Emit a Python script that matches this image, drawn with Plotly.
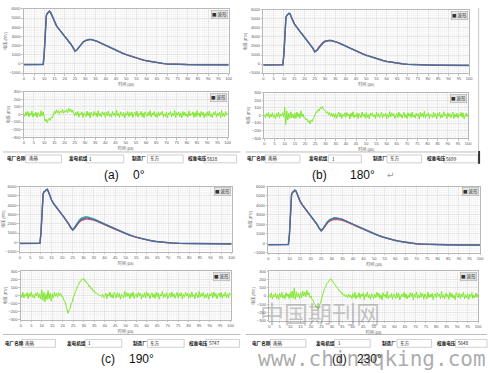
import plotly.graph_objects as go

W, H = 491, 373

# ---------------- data ----------------
t_top = [0, 2, 4, 6, 8, 9, 9.5, 10, 10.5, 11, 11.5, 12, 12.5, 13, 13.5,
         14, 15, 16, 17, 18, 19, 20, 21, 22, 23, 24, 25, 26, 27, 28, 29, 30, 31, 32, 33, 34, 35, 36, 37, 38, 39, 40,
         42, 44, 46, 48, 50, 52, 54, 56, 58, 60, 62, 64, 66, 68, 70,
         72, 75, 80, 85, 90, 95, 100]

blue_a = [-80, -90, -85, -95, -90, -90, -60, 1200, 3800, 5250, 5500, 5600, 5720, 5650, 5400,
          5050, 4500, 4150, 3850, 3580, 3300, 3020, 2750, 2450, 2150, 1800, 1380, 1550, 1850, 2140, 2380, 2530, 2620, 2660, 2650, 2600, 2530, 2440, 2340, 2230, 2120, 2010,
          1790, 1580, 1380, 1190, 1010, 850, 700, 560, 440, 330, 240, 160, 90, 40, 0,
          -30, -60, -80, -90, -95, -100, -105]
red_a = [-80, -90, -85, -95, -90, -90, -60, 1250, 3850, 5300, 5550, 5650, 5790, 5710, 5430,
         5060, 4500, 4150, 3850, 3580, 3300, 3020, 2750, 2450, 2150, 1800, 1380, 1550, 1850, 2140, 2380, 2530, 2620, 2660, 2650, 2600, 2530, 2440, 2340, 2230, 2120, 2010,
         1790, 1580, 1380, 1190, 1010, 850, 700, 560, 440, 330, 240, 160, 90, 40, 0,
         -30, -60, -80, -90, -95, -100, -105]
teal_a = [-80, -90, -85, -95, -90, -90, -60, 1200, 3800, 5250, 5500, 5600, 5720, 5650, 5400,
          5050, 4500, 4150, 3850, 3580, 3300, 3020, 2750, 2450, 2150, 1800, 1380, 1560, 1860, 2150, 2390, 2540, 2630, 2670, 2660, 2610, 2540, 2450, 2340, 2230, 2120, 2010,
          1790, 1580, 1380, 1190, 1010, 850, 700, 560, 440, 330, 240, 160, 90, 40, 0,
          -30, -60, -80, -90, -95, -100, -105]

blue_b = [-100, -110, -105, -110, -115, -110, -80, 1100, 3700, 5200, 5400, 5550, 5620, 5560, 5350,
          5000, 4480, 4120, 3820, 3550, 3270, 2990, 2720, 2420, 2120, 1780, 1350, 1500, 1800, 2100, 2340, 2500, 2580, 2610, 2600, 2560, 2490, 2400, 2300, 2190, 2080, 1970,
          1750, 1540, 1340, 1150, 970, 810, 660, 520, 400, 290, 200, 120, 60, 10, -30,
          -60, -90, -110, -125, -135, -140, -150]
red_b = [-100, -110, -105, -110, -115, -110, -80, 1100, 3700, 5200, 5400, 5550, 5620, 5560, 5350,
         5000, 4480, 4120, 3820, 3550, 3270, 2990, 2720, 2420, 2120, 1780, 1350, 1540, 1900, 2200, 2430, 2560, 2610, 2620, 2600, 2560, 2490, 2400, 2300, 2190, 2080, 1970,
         1750, 1540, 1340, 1150, 970, 810, 660, 520, 400, 290, 200, 120, 60, 10, -30,
         -60, -90, -110, -125, -135, -140, -150]
teal_b = [-100, -110, -105, -110, -115, -110, -80, 1100, 3700, 5200, 5400, 5550, 5620, 5560, 5350,
          5000, 4480, 4120, 3820, 3550, 3270, 2990, 2720, 2420, 2120, 1780, 1350, 1500, 1800, 2100, 2340, 2500, 2580, 2610, 2600, 2560, 2490, 2400, 2300, 2190, 2080, 1970,
          1750, 1540, 1340, 1150, 970, 810, 660, 520, 400, 290, 200, 120, 60, 10, -30,
          -60, -90, -110, -125, -135, -140, -150]

blue_c = [-120, -130, -125, -135, -130, -130, -100, 1000, 3500, 5200, 5450, 5500, 5650, 5700, 5450,
          5100, 4550, 4150, 3820, 3530, 3240, 2950, 2650, 2350, 2000, 1600, 1320, 1600, 1950, 2250, 2460, 2580, 2620, 2610, 2570, 2510, 2440, 2350, 2250, 2140, 2030, 1920,
          1700, 1490, 1290, 1100, 920, 760, 610, 480, 360, 260, 170, 100, 40, -10, -50,
          -80, -110, -130, -145, -155, -160, -170]
red_c = [-120, -130, -125, -135, -130, -130, -100, 1000, 3500, 5200, 5450, 5500, 5650, 5700, 5450,
         5100, 4550, 4150, 3820, 3530, 3240, 2950, 2650, 2350, 1980, 1560, 1300, 1530, 1850, 2130, 2330, 2440, 2480, 2490, 2470, 2430, 2370, 2300, 2210, 2110, 2010, 1910,
         1700, 1490, 1290, 1100, 920, 760, 610, 480, 360, 260, 170, 100, 40, -10, -50,
         -80, -110, -130, -145, -155, -160, -170]
teal_c = [-120, -130, -125, -135, -130, -130, -100, 1000, 3500, 5200, 5450, 5500, 5650, 5700, 5450,
          5100, 4550, 4150, 3820, 3530, 3240, 2950, 2650, 2350, 2000, 1620, 1340, 1680, 2050, 2380, 2600, 2720, 2760, 2740, 2690, 2610, 2530, 2430, 2320, 2200, 2080, 1960,
          1720, 1500, 1290, 1100, 920, 760, 610, 480, 360, 260, 170, 100, 40, -10, -50,
          -80, -110, -130, -145, -155, -160, -170]

blue_d = [-160, -170, -165, -170, -175, -170, -140, 900, 3400, 5150, 5400, 5450, 5600, 5550, 5300,
          5000, 4450, 4080, 3780, 3500, 3220, 2940, 2650, 2350, 2000, 1600, 1310, 1580, 1920, 2230, 2450, 2580, 2640, 2650, 2620, 2570, 2500, 2410, 2310, 2200, 2090, 1980,
          1760, 1550, 1350, 1160, 980, 810, 660, 520, 400, 290, 190, 110, 40, -20, -70,
          -100, -130, -160, -175, -185, -190, -200]
red_d = [-160, -170, -165, -170, -175, -170, -140, 900, 3400, 5150, 5400, 5450, 5600, 5550, 5300,
         5000, 4450, 4080, 3780, 3500, 3220, 2940, 2650, 2350, 2000, 1590, 1300, 1540, 1860, 2150, 2340, 2450, 2500, 2510, 2490, 2450, 2400, 2330, 2250, 2160, 2060, 1960,
         1750, 1550, 1350, 1160, 980, 810, 660, 520, 400, 290, 190, 110, 40, -20, -70,
         -100, -130, -160, -175, -185, -190, -200]
teal_d = [-160, -170, -165, -170, -175, -170, -140, 900, 3400, 5150, 5400, 5450, 5600, 5550, 5300,
          5000, 4450, 4080, 3780, 3500, 3220, 2940, 2650, 2350, 2000, 1600, 1320, 1600, 1960, 2280, 2510, 2620, 2680, 2690, 2660, 2600, 2520, 2430, 2320, 2210, 2090, 1980,
          1760, 1550, 1350, 1160, 980, 810, 660, 520, 400, 290, 190, 110, 40, -20, -70,
          -100, -130, -160, -175, -185, -190, -200]

# difference waveforms, sampled every 0.5 us from 0 to 100
diff_a = [10, -25, 35, -15, 40, -30, 20, -10, 45, -35, 15, -20, 30, -40, 25, 5, -30, 50, -20, 35,
          -40, -90, -60, -110, -70, -50, -80, -30, -45, 10,
          40, 10, 60, 20, 55, 5, 45, 25, 70, 15, 50, 30, 65, 20, 80, 40, 75, 30, 60, 10,
          -20, 30, -10, 40, -35, 15, -5, 35, -40, 20,
          10, -30, 45, -15, 25, -45, 30, 0, -25, 40,
          -10, 20, -35, 50, -20, 15, -30, 35, -5, 25,
          -40, 30, -15, 45, -25, 10, -35, 40, -10, 20,
          -30, 55, -20, 15, -40, 35, 5, -25, 30, -45,
          20, -10, 40, -30, 25, -15, 35, -40, 10, 30,
          -20, 45, -35, 15, -5, 40, -30, 20, -45, 35,
          0, -25, 30, -15, 50, -35, 20, -10, 40, -30,
          15, -40, 35, -20, 25, -5, 45, -35, 10, -25,
          30, -45, 20, 0, 40, -30, 15, -20, 55, -40,
          25, -10, 35, -30, 20, -45, 40, -15, 30, -25,
          10, -35, 45, -20, 15, -5, 35, -40, 25, -30,
          50, -15, 20, -35, 40, -10, 30, -45, 15, -25,
          35, -20, 45, -30, 10, -40, 25, -5, 40, -35,
          20, -15, 30, -45, 55, -25, 15, -30, 40, -10,
          20]
diff_b = [15, -30, 25, -10, 40, -35, 20, -20, 35, -25, 10, -40, 30, -15, 45, -30, 20, -5, 35, -20,
          110, -120, 60, -60, 30, -40, 50, -30, 20, -35,
          30, -40, 45, -20, 25, -35, 60, -15, 20, -30,
          -30, -60, -45, -90, -70, -110, -60, -80, -40, -20,
          20, 50, 40, 80, 60, 110, 90, 120, 80, 70,
          60, 30, 50, 10, 40, -10, 30, -20, 25, -30,
          25, -35, 10, 45, -20, 30, -40, 15, -10, 35,
          -25, 40, -5, 20, -45, 30, -15, 50, -30, 10,
          -20, 35, -40, 25, 0, -30, 45, -10, 20, -35,
          40, -25, 15, -45, 30, -5, 35, -20, 10, -40,
          45, -15, 25, -30, 5, 40, -35, 20, -10, 30,
          -45, 15, -25, 50, -20, 35, -5, 25, -40, 10,
          30, -30, 45, -15, 20, -35, 0, 40, -25, 15,
          -40, 35, -10, 25, -30, 45, -20, 10, -35, 30,
          -5, 20, -45, 40, -15, 30, -25, 55, -35, 15,
          -10, 35, -40, 20, 5, -30, 45, -20, 25, -45,
          30, -10, 40, -35, 15, -25, 50, -5, 20, -40,
          35, -15, 25, -30, 10, 45, -40, 20, -20, 30,
          -35, 15, -5, 40, -25, 35, -45, 10, 30, -15,
          25]
diff_c = [20, -25, 40, -30, 15, -10, 35, -40, 25, -15, 45, -20, 10, -35, 30, -5, 40, -30, 20, -45,
          70, -60, 40, -80, 20, -50, 60, -40, 30, -70,
          20, -30, 40, -10, 30, -20, 35, 0, 25, -15,
          -10, -60, -70, -130, -150, -220, -180, -160, -100, -80,
          -20, 0, 50, 70, 120, 130, 170, 170, 200, 195,
          215, 180, 180, 150, 150, 110, 120, 80, 90, 50,
          60, 30, 30, 20, 10, 0, 5, -15, 15, -25,
          -15, 30, -40, 20, -5, 45, -25, 15, -35, 40,
          10, -30, 35, -20, 25, -45, 15, 0, -30, 50,
          -20, 35, -10, 25, -40, 30, -15, 45, -35, 10,
          20, -25, 40, -5, 30, -45, 15, -20, 35, -30,
          45, -10, 25, -40, 5, 35, -25, 20, -35, 40,
          -15, 30, -45, 15, -5, 50, -30, 20, -20, 35,
          -40, 10, 30, -25, 45, -15, 20, -35, 5, 40,
          -30, 25, -10, 35, -45, 15, -20, 40, -5, 30,
          -35, 20, -25, 45, -15, 10, -40, 35, 0, -30,
          50, -20, 25, -10, 40, -35, 15, -25, 30, -45,
          20, -5, 35, -30, 45, -15, 25, -40, 10, 30,
          -20, 40, -35, 15, -10, 45, -25, 20, -30, 35,
          5]
diff_d = [25, -20, 40, -35, 15, -10, 35, -30, 20, -40, 30, -15, 45, -25, 10, -35, 40, -5, 25, -30,
          40, -20, 60, -30, 100, -40, 50, -10, 30, -30,
          40, -20, 60, 0, 50, -10, 70, 10, 40, -20,
          0, -40, -50, -90, -100, -140, -130, -160, -110, -90,
          -40, 10, 40, 90, 110, 150, 160, 190, 200, 210,
          190, 180, 150, 140, 120, 100, 90, 60, 60, 30,
          40, 10, 20, -10, 15, -20, 25, -15, 10, -30,
          30, -20, 45, -35, 10, -15, 40, -30, 25, -5,
          35, -45, 20, -10, 50, -25, 15, -40, 30, 0,
          -35, 25, -20, 45, -10, 35, -30, 15, -45, 40,
          -5, 20, -25, 55, -35, 10, -15, 30, -40, 25,
          15, -30, 40, -20, 35, -45, 5, 25, -10, 45,
          -25, 30, -35, 10, -20, 40, -5, 35, -45, 20,
          -15, 50, -30, 15, -25, 40, -10, 30, -40, 25,
          0, -35, 45, -20, 20, -15, 35, -45, 10, 30,
          -25, 40, -5, 25, -30, 55, -20, 15, -35, 35,
          -10, 20, -40, 45, -15, 30, -25, 10, -45, 40,
          5, -20, 35, -30, 25, -10, 45, -35, 15, -25,
          30, -40, 20, -5, 40, -30, 10, -20, 35, -15,
          25]
t_bot = [i * 0.5 for i in range(len(diff_a))]

x_ticks = [0, 5, 10, 15, 20, 25, 30, 35, 40, 45, 50, 55, 60, 65, 70, 75, 80, 85, 90, 95, 100]
y_ticks_top = [-1000, 0, 1000, 2000, 3000, 4000, 5000, 6000]
y_ticks_bot = [-300, -200, -100, 0, 100, 200, 300]

info_labels = ["电厂名称", "发电机组", "制造厂", "校准电压"]
plant_name = "南热"
unit_no = "1"
maker = "东方"
cal_voltages = ["5828", "5699", "5747", "5648"]
panel_letters = ["(a)", "(b)", "(c)", "(d)"]
panel_angles = ["0°", "180°", "190°", "230°"]
legend_text = "波形"
x_title = "时间 (μs)"
y_title = "电压 (mV)"

# ---------------- layout helpers ----------------
def fx(p):
    return p / W

def fy(p):
    return 1 - p / H

CJK = "Noto Sans CJK SC"
BLUE, RED, TEAL, GREEN = "#4d6d9e", "#e8505c", "#3cb8a2", "#7ee82a"

panels = [
    dict(top=(23, 230, 6, 71), bot=(23, 229, 90, 136), blue=blue_a, red=red_a, teal=teal_a, diff=diff_a,
         sep=(2, 242, 151), info_y=(154, 162), lab_x=[4, 67, 130, 187],
         boxes=[(25, 61), (86, 124), (148, 184), (205, 238)], cap=(112, 139, 174)),
    dict(top=(265, 473, 7, 71), bot=(266, 472, 91, 137), blue=blue_b, red=red_b, teal=teal_b, diff=diff_b,
         sep=(247, 481, 151), info_y=(154, 162), lab_x=[247, 309, 374, 428],
         boxes=[(267, 302), (331, 364), (390, 425), (447, 482)], cap=(322, 365, 174)),
    dict(top=(19, 233, 186, 252), bot=(20, 232, 272, 321), blue=blue_c, red=red_c, teal=teal_c, diff=diff_c,
         sep=(2, 242, 336), info_y=(341, 349), lab_x=[2, 65, 131, 188],
         boxes=[(21, 55), (85, 122), (148, 185), (207, 241)], cap=(108, 142, 361)),
    dict(top=(270, 484, 186, 253), bot=(271, 482, 272, 322), blue=blue_d, red=red_d, teal=teal_d, diff=diff_d,
         sep=(247, 491, 336), info_y=(341, 349), lab_x=[252, 316, 383, 438],
         boxes=[(272, 308), (337, 373), (400, 435), (459, 491)], cap=(342, 372, 361)),
]

fig = go.Figure()
layout = {}
shapes = []
annotations = []

def axis_common():
    return dict(showline=True, linecolor="#b8b8b8", linewidth=1, mirror=True,
                showgrid=True, gridcolor="#dddddd", gridwidth=0.6, zeroline=False,
                ticks="outside", ticklen=1.5, tickcolor="#999", tickwidth=0.6,
                tickfont=dict(size=4, color="#555", family="Liberation Sans"),
                fixedrange=True)

k = 0
for i, p in enumerate(panels):
    for part in ("top", "bot"):
        k += 1
        xa = "xaxis" if k == 1 else f"xaxis{k}"
        ya = "yaxis" if k == 1 else f"yaxis{k}"
        xr = "x" if k == 1 else f"x{k}"
        yr = "y" if k == 1 else f"y{k}"
        x0, x1, y0, y1 = p[part]
        xcfg = axis_common()
        xcfg.update(domain=[fx(x0), fx(x1)], anchor=yr, range=[0, 100], tickvals=x_ticks,
                    minor=dict(showgrid=True, dtick=1, gridcolor="#f0f0f0", gridwidth=0.5),
                    title=dict(text=x_title, font=dict(size=4, family=CJK, color="#555"), standoff=1))
        ycfg = axis_common()
        if part == "top":
            ycfg.update(domain=[fy(y1), fy(y0)], anchor=xr, range=[-1000, 6000], tickvals=y_ticks_top,
                        minor=dict(showgrid=True, dtick=200, gridcolor="#f0f0f0", gridwidth=0.5))
        else:
            ycfg.update(domain=[fy(y1), fy(y0)], anchor=xr, range=[-300, 300], tickvals=y_ticks_bot,
                        minor=dict(showgrid=True, dtick=20, gridcolor="#f0f0f0", gridwidth=0.5))
        ycfg.update(title=dict(text=y_title, font=dict(size=4, family=CJK, color="#555"), standoff=1))
        layout[xa] = xcfg
        layout[ya] = ycfg

        if part == "top":
            fig.add_trace(go.Scatter(x=t_top, y=p["teal"], mode="lines", xaxis=xr, yaxis=yr,
                                     line=dict(color=TEAL, width=1.2)))
            fig.add_trace(go.Scatter(x=t_top, y=p["red"], mode="lines", xaxis=xr, yaxis=yr,
                                     line=dict(color=RED, width=1.2)))
            fig.add_trace(go.Scatter(x=t_top, y=p["blue"], mode="lines", xaxis=xr, yaxis=yr,
                                     line=dict(color=BLUE, width=1.5)))
        else:
            fig.add_trace(go.Scatter(x=t_bot, y=p["diff"], mode="lines", xaxis=xr, yaxis=yr,
                                     line=dict(color=GREEN, width=1)))
        # legend tag "波形"
        annotations.append(dict(xref="paper", yref="paper", x=fx(x1 - 0.8), y=fy(y0 + 0.8),
                                xanchor="right", yanchor="top", showarrow=False,
                                text="■ " + legend_text,
                                font=dict(size=4.5, family=CJK, color="#333"),
                                bgcolor="#e4e4e4", bordercolor="#a0a0a0", borderwidth=0.5, borderpad=0.4))

    # separator line above info bar
    sx0, sx1, sy = p["sep"]
    shapes.append(dict(type="line", xref="paper", yref="paper", x0=fx(sx0), x1=fx(sx1),
                       y0=fy(sy), y1=fy(sy), line=dict(color="#bdbdbd", width=1)))
    iy0, iy1 = p["info_y"]
    values = [plant_name, unit_no, maker, cal_voltages[i]]
    for j in range(4):
        annotations.append(dict(xref="paper", yref="paper", x=fx(p["lab_x"][j]), y=fy((iy0 + iy1) / 2),
                                xanchor="left", yanchor="middle", showarrow=False,
                                text="<b>" + info_labels[j] + "</b>",
                                font=dict(size=4.6, family=CJK, color="#111")))
        bx0, bx1 = p["boxes"][j]
        shapes.append(dict(type="rect", xref="paper", yref="paper", x0=fx(bx0), x1=fx(bx1),
                           y0=fy(iy1), y1=fy(iy0), line=dict(color="#c4c4c4", width=0.8),
                           fillcolor="white"))
        annotations.append(dict(xref="paper", yref="paper", x=fx(bx0 + 1), y=fy((iy0 + iy1) / 2),
                                xanchor="left", yanchor="middle", showarrow=False,
                                text=values[j], font=dict(size=4.6, family=CJK, color="#111")))
    cx_l, cx_a, cy = p["cap"]
    annotations.append(dict(xref="paper", yref="paper", x=fx(cx_l), y=fy(cy), xanchor="center",
                            yanchor="middle", showarrow=False, text=panel_letters[i],
                            font=dict(size=12, family="Liberation Sans", color="#111")))
    annotations.append(dict(xref="paper", yref="paper", x=fx(cx_a), y=fy(cy), xanchor="center",
                            yanchor="middle", showarrow=False, text=panel_angles[i],
                            font=dict(size=12, family="Liberation Sans", color="#111")))

# return-mark after caption (b)
annotations.append(dict(xref="paper", yref="paper", x=fx(394), y=fy(174), xanchor="center",
                        yanchor="middle", showarrow=False, text="↵",
                        font=dict(size=9, family="DejaVu Sans", color="#999")))
# right border on panel (b)
shapes.append(dict(type="line", xref="paper", yref="paper", x0=fx(482.5), x1=fx(482.5),
                   y0=fy(5), y1=fy(150), line=dict(color="#c8c8c8", width=1)))
shapes.append(dict(type="line", xref="paper", yref="paper", x0=fx(483), x1=fx(483),
                   y0=fy(150), y1=fy(163), line=dict(color="#333333", width=2)))

# watermark
annotations.append(dict(xref="paper", yref="paper", x=fx(322), y=fy(314), xanchor="center",
                        yanchor="middle", showarrow=False, text="中国期刊网",
                        font=dict(size=24, family=CJK, color="rgba(120,120,120,0.42)")))
annotations.append(dict(xref="paper", yref="paper", x=fx(375), y=fy(361), xanchor="center",
                        yanchor="middle", showarrow=False, text="www.chinaqking.com",
                        font=dict(size=21, family="DejaVu Sans Mono", color="rgba(100,100,100,0.55)")))

fig.update_layout(width=W, height=H, margin=dict(l=0, r=0, t=0, b=0),
                  paper_bgcolor="white", plot_bgcolor="white", showlegend=False,
                  hovermode=False,
                  shapes=shapes, annotations=annotations, **layout)

fig.write_html("out.html", config={"displayModeBar": False, "staticPlot": True},
               post_script="document.body.style.margin='0';document.body.style.padding='0';"
                           "document.body.style.overflow='hidden';")
